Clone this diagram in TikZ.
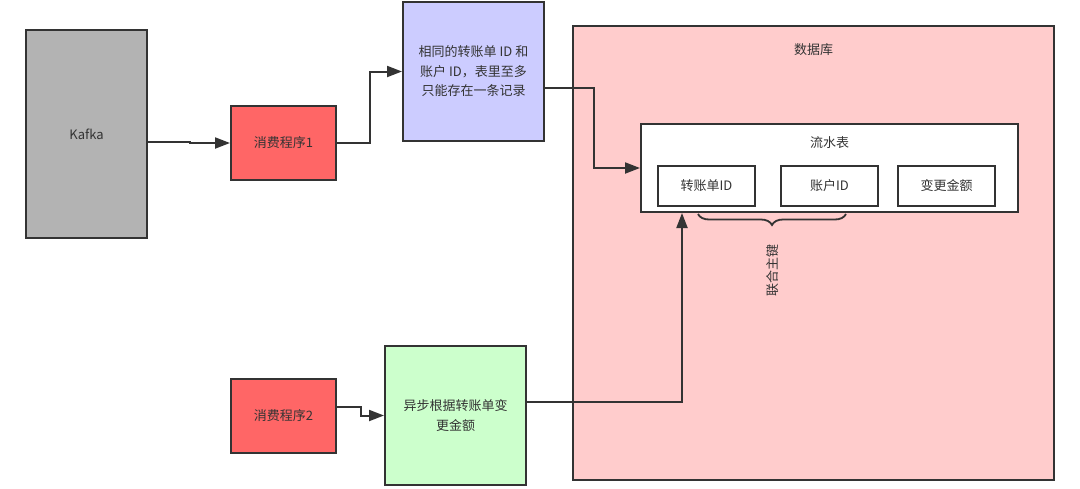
\documentclass[tikz,border=0pt]{standalone}
\usepackage{fontspec}
\setmainfont{Noto Sans CJK SC}
\usetikzlibrary{arrows.meta,calc,decorations.pathreplacing}
\definecolor{edge}{HTML}{333333}
\definecolor{txt}{HTML}{333333}
\definecolor{kafkafill}{HTML}{B3B3B3}
\definecolor{redfill}{HTML}{FF6666}
\definecolor{bluefill}{HTML}{CCCCFF}
\definecolor{greenfill}{HTML}{CCFFCC}
\definecolor{dbfill}{HTML}{FFCCCC}
\tikzset{
  box/.style={draw=edge, line width=2pt, text=txt, align=center, inner sep=0pt,
    font=\fontsize{13}{19.5}\selectfont},
  conn/.style={draw=edge, line width=2pt, -{Triangle[length=15pt,width=11pt]}},
  lbl/.style={text=txt, font=\fontsize{13}{15}\selectfont, inner sep=0pt}
}
\begin{document}
\begin{tikzpicture}[x=1pt,y=-1pt]
\useasboundingbox (0,0) rectangle (1080,488);
% database
\node[box, fill=dbfill, minimum width=481pt, minimum height=454pt] (db) at (813.5,253) {};
\node[lbl] (dblabel) at (813.5,50) {数据库};
% table
\node[box, fill=white, minimum width=377pt, minimum height=88pt] (tbl) at (829.5,168) {};
\node[lbl] (tbllabel) at (829.5,143) {流水表};
\node[box, fill=white, minimum width=97pt, minimum height=40pt] (c1) at (706.5,186) {转账单ID};
\node[box, fill=white, minimum width=97pt, minimum height=40pt] (c2) at (829.5,186) {账户ID};
\node[box, fill=white, minimum width=97pt, minimum height=40pt] (c3) at (946.5,186) {变更金额};
% brace
\coordinate (br) at (846,214);
\coordinate (bl) at (698,214);
\draw[draw=edge, line width=1.8pt, decorate, decoration={brace, amplitude=11pt}] (br) -- (bl);
\node[lbl, rotate=90] (pk) at (773,270) {联合主键};
% left side
\node[box, fill=kafkafill, minimum width=121pt, minimum height=208pt] (kafka) at (86.5,134) {Kafka};
\node[box, fill=redfill, minimum width=105pt, minimum height=74pt] (p1) at (283.5,143) {消费程序1};
\node[box, fill=bluefill, minimum width=141pt, minimum height=139pt] (blue) at (473.5,71.5) {相同的转账单 ID 和\\账户 ID，表里至多\\只能存在一条记录};
\node[box, fill=redfill, minimum width=105pt, minimum height=74pt] (p2) at (283.5,416) {消费程序2};
\node[box, fill=greenfill, minimum width=141pt, minimum height=139pt] (green) at (455.5,415.5) {异步根据转账单变\\更金额};
% connectors
\draw[conn] ($(kafka.east)+(0,8)$) -- ++(42,0) |- (p1.west);
\draw[conn] (p1.east) -- ++(33,0) |- (blue.west);
\draw[conn] ($(blue.east)+(0,16.5)$) -- ++(49,0) |- (tbl.west);
\draw[conn] ($(p2.east)+(0,-9)$) -- ++(24,0) |- (green.west);
\draw[conn] ($(green.east)+(0,-13.5)$) -| ($(tbl.south west)+(42,0)$);
\end{tikzpicture}
\end{document}
